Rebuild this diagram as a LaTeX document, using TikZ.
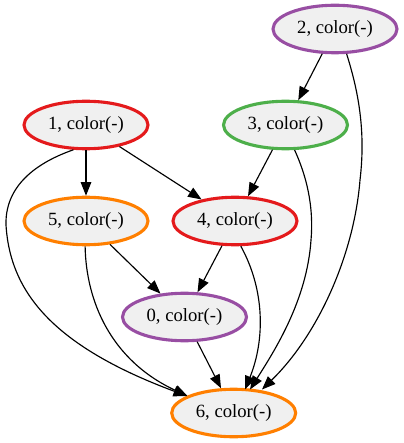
\documentclass[tikz,border=0pt]{standalone}
\usepackage{fontspec}
\setmainfont{Liberation Serif}
\usetikzlibrary{shapes.geometric,arrows.meta}
\definecolor{cred}{HTML}{E41A1C}
\definecolor{cgreen}{HTML}{4DAF4A}
\definecolor{cpurple}{HTML}{984EA3}
\definecolor{corange}{HTML}{FF7F00}
\definecolor{cfill}{HTML}{F0F0F0}
\tikzset{
  gnode/.style={ellipse, draw=#1, fill=cfill, line width=3.1pt, minimum width=124pt, minimum height=47.5pt, inner sep=0pt, font=\fontsize{18.67}{22}\selectfont},
  gedge/.style={line width=1.15pt, -{Triangle[length=13.5pt,width=10.5pt]}}
}
\begin{document}
\begin{tikzpicture}[x=1pt,y=-1pt]
\useasboundingbox (0,0) rectangle (403,443);
\node[gnode=cpurple] (n2) at (335,29) {2, color(-)};
\node[gnode=cred] (n1) at (86,125) {1, color(-)};
\node[gnode=cgreen] (n3) at (285.5,125) {3, color(-)};
\node[gnode=corange] (n5) at (86,221) {5, color(-)};
\node[gnode=cred] (n4) at (235,221) {4, color(-)};
\node[gnode=cpurple] (n0) at (184.5,317) {0, color(-)};
\node[gnode=corange] (n6) at (233.7,413) {6, color(-)};

\draw[gedge] (n2) -- (n3);
\draw[gedge] (n1) -- (n5);
\draw[gedge] (n1) -- (n4);
\draw[gedge] (n3) -- (n4);
\draw[gedge] (n5) -- (n0);
\draw[gedge] (n4) -- (n0);
\draw[gedge] (n0) -- (n6);

\coordinate (t26) at (262,389.5);
\coordinate (t36) at (250,389.5);
\coordinate (t46) at (245,389.5);
\coordinate (t16) at (187,396);
\coordinate (t56) at (187.5,396);

\draw[gedge] (n2.-65) .. controls (358,90) and (366,130) .. (360,180)
  .. controls (354,255) and (318,335) .. (t26);
\draw[gedge] (n3.-70) .. controls (306,175) and (314,205) .. (311,240)
  .. controls (307,300) and (275,350) .. (t36);
\draw[gedge] (n4.-77) .. controls (265,290) and (265,340) .. (t46);
\draw[gedge] (n1.-117) .. controls (30,165) and (5,190) .. (6,225)
  .. controls (10,290) and (50,345) .. (t16);
\draw[gedge] (n5.-92) .. controls (86,300) and (110,360) .. (t56);
\end{tikzpicture}
\end{document}
